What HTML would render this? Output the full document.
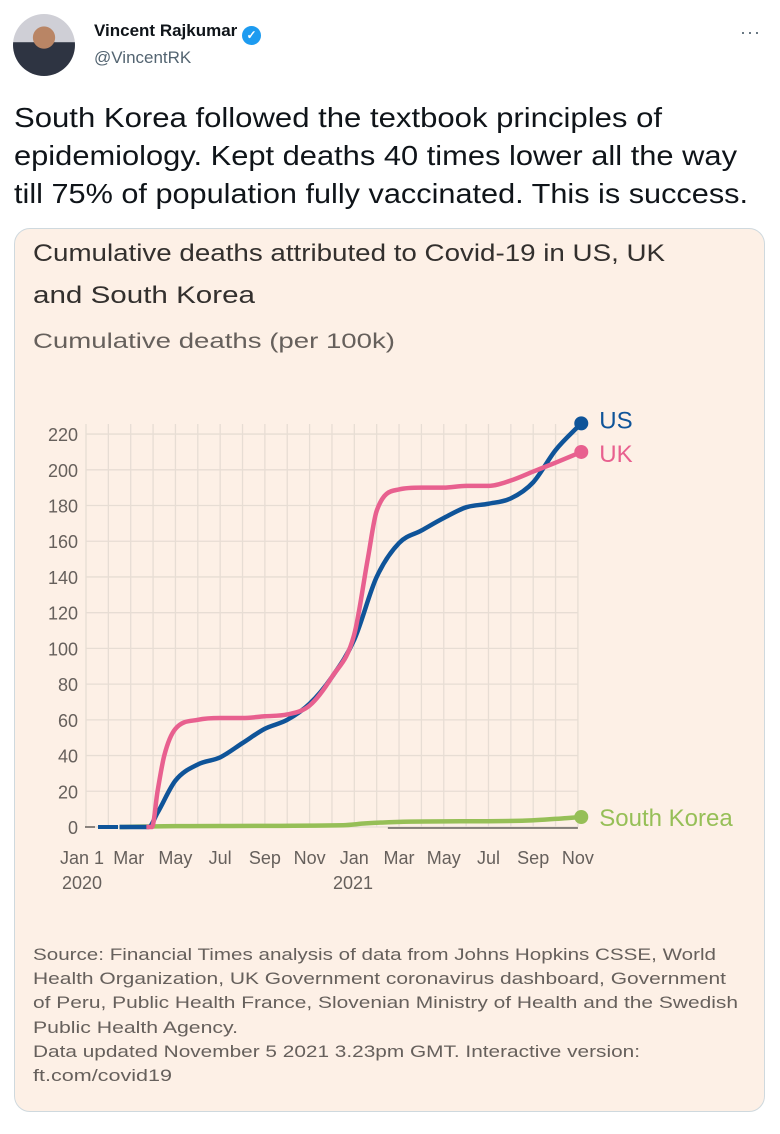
<!DOCTYPE html>
<html><head><meta charset="utf-8"><style>
body{margin:0;width:780px;height:1134px;background:#fff;font-family:"Liberation Sans",sans-serif;position:relative;overflow:hidden}
.abs{position:absolute}
</style></head><body>
<div class="abs" style="left:13px;top:14px;width:62px;height:62px;border-radius:50%;background:radial-gradient(circle at 50% 38%,#b98565 0 22%,transparent 23%),linear-gradient(180deg,#cfcfd6 0 45%,#2e3442 46%);"></div>
<div class="abs" style="left:94px;top:21px;font-size:17px;font-weight:bold;color:#0f1419">Vincent Rajkumar <span style="display:inline-block;width:19px;height:19px;border-radius:50%;background:#1d9bf0;color:#fff;font-size:12px;text-align:center;line-height:19px;vertical-align:-3px">✓</span></div>
<div class="abs" style="left:94px;top:48px;font-size:17px;color:#536471">@VincentRK</div>
<div class="abs" style="left:740px;top:22px;font-size:18px;color:#536471;letter-spacing:1px">···</div>
<svg class="abs" style="left:0;top:95px" width="780" height="120">
<g font-family="Liberation Sans, sans-serif" font-size="28" fill="#0f1419">
<text x="14" y="32" textLength="648" lengthAdjust="spacingAndGlyphs">South Korea followed the textbook principles of</text>
<text x="14" y="70" textLength="723" lengthAdjust="spacingAndGlyphs">epidemiology. Kept deaths 40 times lower all the way</text>
<text x="14" y="108" textLength="734" lengthAdjust="spacingAndGlyphs">till 75% of population fully vaccinated. This is success.</text>
</g></svg>
<div class="abs" style="left:14px;top:228px;width:749px;height:882px;border:1px solid #cfd9de;border-radius:16px;background:#fdf0e6"></div>
<svg class="abs" style="left:0;top:0" width="780" height="1134" id="chart">
<g fill="#33302e" font-family="Liberation Sans, sans-serif">
<text x="33" y="261" font-size="24" textLength="632" lengthAdjust="spacingAndGlyphs">Cumulative deaths attributed to Covid-19 in US, UK</text>
<text x="33" y="303" font-size="24" textLength="222" lengthAdjust="spacingAndGlyphs">and South Korea</text>
<text x="33" y="348" font-size="21" fill="#66605c" textLength="362" lengthAdjust="spacingAndGlyphs">Cumulative deaths (per 100k)</text>
</g>
<g id="grid"></g><g id="ticks"></g><g id="series"></g>
<g fill="#66605c" font-size="17">
<text x="33" y="960" textLength="683" lengthAdjust="spacingAndGlyphs">Source: Financial Times analysis of data from Johns Hopkins CSSE, World</text>
<text x="33" y="984" textLength="693" lengthAdjust="spacingAndGlyphs">Health Organization, UK Government coronavirus dashboard, Government</text>
<text x="33" y="1008" textLength="705" lengthAdjust="spacingAndGlyphs">of Peru, Public Health France, Slovenian Ministry of Health and the Swedish</text>
<text x="33" y="1033" textLength="205" lengthAdjust="spacingAndGlyphs">Public Health Agency.</text>
<text x="33" y="1057" textLength="607" lengthAdjust="spacingAndGlyphs">Data updated November 5 2021 3.23pm GMT. Interactive version:</text>
<text x="33" y="1081" textLength="139" lengthAdjust="spacingAndGlyphs">ft.com/covid19</text>
</g>
</svg>
<script>
const yTicks=[0,20,40,60,80,100,120,140,160,180,200,220];
const xTickMonths=[0,2,4,6,8,10,12,14,16,18,20,22];
const xTickLabels=["Jan 1","Mar","May","Jul","Sep","Nov","Jan","Mar","May","Jul","Sep","Nov"];
const usMonths=[1.5,2.8,3.2,4,5,6,7,8,9,10,11,12,13,14,15,16,17,18,19,20,21,22.15];
const usValues=[0,0,8,26,35,39,47,55,60,69,84,105,140,159,166,173,179,181,184,193,211,226];
const ukMonths=[2.7,2.95,3.2,3.5,4,5,6,7,8,9,10,11,12,12.6,13,14,15,16,17,18,19,20,21,22.15];
const ukValues=[0,0,20,40,55,60,61,61,62,63,68,84,108,150,177,189,190,190,191,191,194,199,204,210];
const skMonths=[1.5,4,11.5,12.5,14.5,19.5,21.5,22.15];
const skValues=[0,0.5,1,2,3,3.5,5,5.6];
const NS="http://www.w3.org/2000/svg";
const x=m=>86+m*22.36, y=v=>827-v*1.786;
function mk(tag,attrs,parent){const e=document.createElementNS(NS,tag);for(const k in attrs)e.setAttribute(k,attrs[k]);parent.appendChild(e);return e;}
const grid=document.getElementById('grid'),ticks=document.getElementById('ticks'),series=document.getElementById('series');
for(let m=0;m<=22;m++){const l=mk('line',{x1:x(m),x2:x(m),y1:424,y2:827,stroke:'#e7ddd4','stroke-width':1.3},grid);

}
yTicks.forEach(v=>{const l=mk('line',{x1:86,x2:x(22),y1:y(v),y2:y(v),stroke:'#e7ddd4','stroke-width':1.3},grid);


const t=mk('text',{x:78,y:y(v)+7,'text-anchor':'end','font-size':18,fill:'#66605c'},ticks);t.textContent=v;

});
xTickMonths.forEach((m,i)=>{const cx=i===0?82:(i===1?x(m)-2:x(m));const t=mk('text',{x:cx,y:864,'text-anchor':'middle','font-size':18,fill:'#66605c'},ticks);t.textContent=xTickLabels[i];

});
[[ "2020",62],["2021",333]].forEach(([s,px])=>{const t=mk('text',{x:px,y:889,'font-size':18,fill:'#66605c'},ticks);t.textContent=s;

});
const z=mk('line',{x1:85,x2:95,y1:827,y2:827,stroke:'#66605c','stroke-width':1.5},ticks);


const ax=mk('line',{x1:x(13.5),x2:x(22),y1:828,y2:828,stroke:'#4a4744','stroke-width':1.2},ticks);


const bd=mk('line',{x1:98,x2:118,y1:827,y2:827,stroke:'#0f5499','stroke-width':4},series);


function path(ms,vs){const n=ms.length,X=ms.map(x),Y=vs.map(y);const d=[],m=[];
for(let i=0;i<n-1;i++)d.push((Y[i+1]-Y[i])/(X[i+1]-X[i]));
for(let i=0;i<n;i++){if(i===0)m.push(d[0]);else if(i===n-1)m.push(d[n-2]);else m.push(d[i-1]*d[i]<=0?0:(d[i-1]+d[i])/2);}
for(let i=0;i<n-1;i++){if(d[i]===0){m[i]=0;m[i+1]=0;continue;}const a=m[i]/d[i],b=m[i+1]/d[i];const s=a*a+b*b;if(s>9){const t=3/Math.sqrt(s);m[i]=t*a*d[i];m[i+1]=t*b*d[i];}}
let p=`M${X[0]},${Y[0]}`;for(let i=0;i<n-1;i++){const h=(X[i+1]-X[i])/3;p+=` C${X[i]+h},${Y[i]+m[i]*h} ${X[i+1]-h},${Y[i+1]-m[i+1]*h} ${X[i+1]},${Y[i+1]}`;}return p;}
function draw(ms,vs,col,name,label,ly){
const p=mk('path',{d:path(ms,vs),fill:'none',stroke:col,'stroke-width':4.5,'stroke-linejoin':'round'},series);


const c=mk('circle',{cx:x(ms[ms.length-1]),cy:y(vs[vs.length-1]),r:7,fill:col},series);


const t=mk('text',{x:x(ms[ms.length-1])+18,y:y(vs[vs.length-1])+ly,'font-size':24,fill:col},series);t.textContent=label;

}
draw(skMonths,skValues,'#96bf57','south-korea','South Korea',9);
draw(usMonths,usValues,'#0f5499','us','US',5);
draw(ukMonths,ukValues,'#e8608f','uk','UK',10);
</script>
</body></html>
